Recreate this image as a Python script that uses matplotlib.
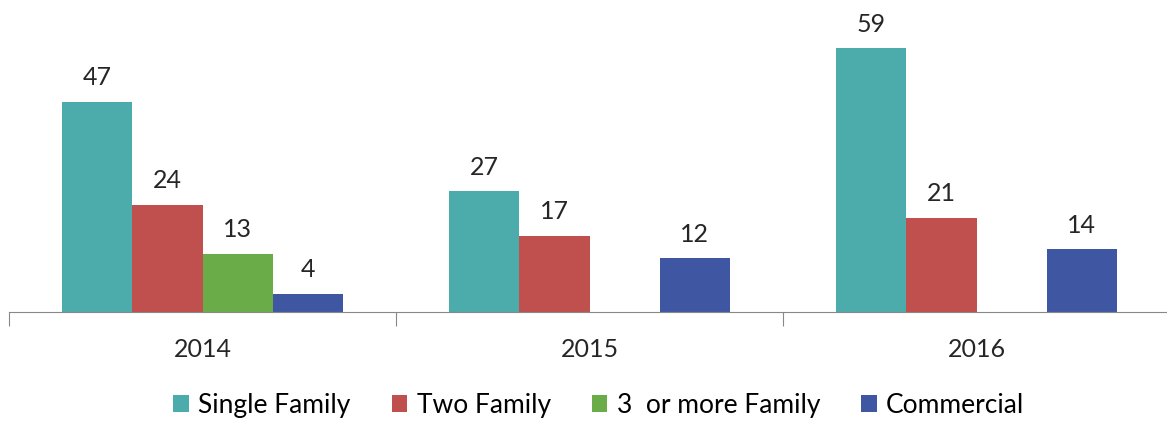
import numpy as np
import matplotlib.pyplot as plt

years = ["2014", "2015", "2016"]
series = ["Single Family", "Two Family", "3  or more Family", "Commercial"]
single_family = [47, 27, 59]
two_family = [24, 17, 21]
three_plus = [13, None, None]
commercial = [4, 12, 14]
colors = ["#4bacab", "#c0504d", "#6aad48", "#3f57a3"]

plt.rcParams["font.family"] = ["Lato", "DejaVu Sans"]

fig = plt.figure(figsize=(11.67, 4.22), dpi=100)
# axis runs past the right edge of the picture, as in the original
ax = fig.add_axes([9 / 1167, 110 / 422, 1161 / 1167, 312 / 422])

x = np.arange(len(years))
width = 0.181
all_vals = [single_family, two_family, three_plus, commercial]
for i, (name, vals, c) in enumerate(zip(series, all_vals, colors)):
    offs = (i - 1.5) * width
    for xi, v in zip(x, vals):
        if v is None:
            continue
        ax.bar(xi + offs, v, width, color=c, linewidth=0)
        ax.text(xi + offs, v + 5.4, str(v), ha="center", va="center",
                fontsize=18, color="#262626")
    # empty bar for legend entry
    ax.bar(0, 0, 0, color=c, label=name)

ax.set_xlim(-0.5, 2.5)
ax.set_ylim(0, 69.8)
for s in ["top", "right", "left"]:
    ax.spines[s].set_visible(False)
ax.spines["bottom"].set_color("#888888")
ax.set_yticks([])
ax.set_xticks([-0.5, 0.5, 1.5, 2.5])
ax.set_xticklabels([])
ax.tick_params(axis="x", length=10, color="#888888")
for xi, yr in zip(x, years):
    ax.text(xi, -8.5, yr, ha="center", va="center", fontsize=18,
            color="#262626")

ax.legend(loc="center", bbox_to_anchor=(0.508, -0.30), ncol=4, frameon=False,
          fontsize=19, handlelength=0.6, handleheight=0.6, handletextpad=0.35,
          columnspacing=1.55)

fig.savefig("out.png", dpi=100)
